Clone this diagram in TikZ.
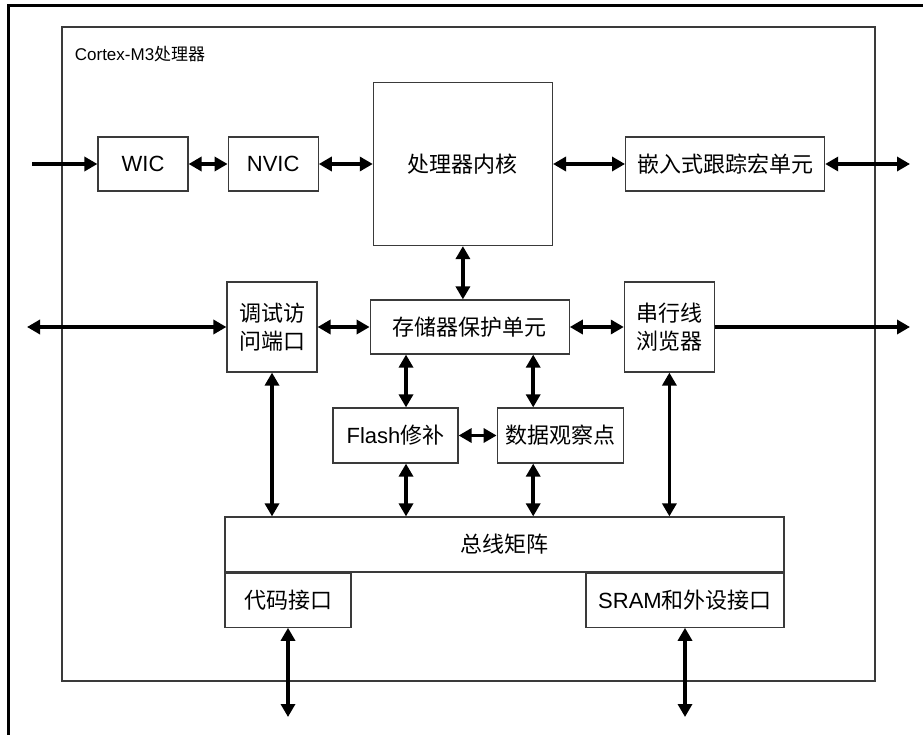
\documentclass[tikz,border=0pt]{standalone}
\usepackage{fontspec}
\setmainfont{Liberation Sans}
\newfontfamily\cjk{Noto Sans CJK SC}
\usetikzlibrary{arrows.meta,positioning}
\definecolor{edge}{HTML}{3A3A3A}
\definecolor{ink}{HTML}{000000}
\newcommand{\zhtext}[1]{{\cjk #1}}
\tikzset{
  unitbox/.style={
    rectangle, draw=edge, line width=1.2pt, fill=white,
    minimum width=#1, minimum height=54pt,
    font={\fontsize{22}{28}\selectfont}, align=center,
    inner sep=2pt
  },
  unitbox/.default=90pt,
  busarrow/.style={
    {Triangle[length=13pt,width=14pt]}-{Triangle[length=13pt,width=14pt]},
    line width=3.5pt, color=ink
  },
  inarrow/.style={
    -{Triangle[length=13pt,width=14pt]}, line width=3.5pt, color=ink
  },
  chipframe/.style={rectangle, draw=edge, line width=1.3pt,
    minimum width=813pt, minimum height=654pt},
  pageframe/.style={line width=3pt, color=ink, line join=miter},
}

\begin{document}
\begin{tikzpicture}[x=1pt, y=-1pt]
    \useasboundingbox (0,0) rectangle (923,735);
    \draw[pageframe] (8,735) -- (8,6) -- (923,6);
    \node[chipframe] (chip) at (468.5,354) {};
    \node[anchor=west, font={\fontsize{17}{20}\selectfont}] (chiplabel) at ([xshift=10pt,yshift=-28pt]chip.north west) {Cortex-M3\zhtext{处理器}};
    % top row
    \node[unitbox] (wic) at (143,164) {WIC};
    \node[unitbox, right=39pt of wic] (nvic) {NVIC};
    \node[unitbox=179pt, minimum height=163pt, right=54pt of nvic] (core) {\zhtext{处理器内核}};
    \node[unitbox=199pt, right=72pt of core] (etm) {\zhtext{嵌入式跟踪宏单元}};
    % middle row
    \node[unitbox, minimum height=90pt] (dap) at (272,327) {\zhtext{调试访}\\\zhtext{问端口}};
    \node[unitbox=199pt, right=52pt of dap] (mpu) {\zhtext{存储器保护单元}};
    \node[unitbox, minimum height=90pt, right=54pt of mpu] (swv) {\zhtext{串行线}\\\zhtext{浏览器}};
    \node[unitbox=125pt, minimum height=55pt] (flash) at (395.5,435.5) {Flash\zhtext{修补}};
    \node[unitbox=126pt, minimum height=55pt, right=38pt of flash] (dwt) {\zhtext{数据观察点}};
    % bus and interfaces
    \node[unitbox=559pt, minimum height=55pt] (bus) at (504.5,544.5) {\zhtext{总线矩阵}};
    \node[unitbox=126pt, anchor=north west] (code) at (bus.south west) {\zhtext{代码接口}};
    \node[unitbox=198pt, anchor=north east] (sram) at (bus.south east) {SRAM\zhtext{和外设接口}};
    % outside ends
    \coordinate (irqin) at (32,164);
    \coordinate (traceout) at (910,164);
    \coordinate (dbgport) at (27,327);
    \coordinate (swout) at (910,327);
    \coordinate (codebus) at (288,717);
    \coordinate (sysbus) at (685,717);
    \coordinate (flashtap) at ([xshift=10.5pt]flash.north);
    \coordinate (dwttap) at ([xshift=-27pt]dwt.north);
    \draw[inarrow] (irqin) -- (wic);
    \draw[busarrow] (wic) -- (nvic);
    \draw[busarrow] (nvic) -- (core);
    \draw[busarrow] (core) -- (etm);
    \draw[busarrow] (etm) -- (traceout);
    \draw[busarrow] (dbgport) -- (dap);
    \draw[busarrow] (dap) -- (mpu);
    \draw[busarrow] (mpu) -- (swv);
    \draw[inarrow] (swv) -- (swout);
    \draw[busarrow] (core.south) -- (core.south |- mpu.north);
    \draw[busarrow] (flashtap |- mpu.south) -- (flashtap);
    \draw[busarrow] (dwttap |- mpu.south) -- (dwttap);
    \draw[busarrow] (flash) -- (dwt);
    \draw[busarrow] (flashtap |- flash.south) -- (flashtap |- bus.north);
    \draw[busarrow] (dwttap |- dwt.south) -- (dwttap |- bus.north);
    \draw[busarrow] (dap) -- (dap |- bus.north);
    \draw[busarrow] (swv) -- (swv |- bus.north);
    \draw[busarrow] (code) -- (codebus);
    \draw[busarrow] (sram) -- (sysbus);
\end{tikzpicture}
\end{document}
